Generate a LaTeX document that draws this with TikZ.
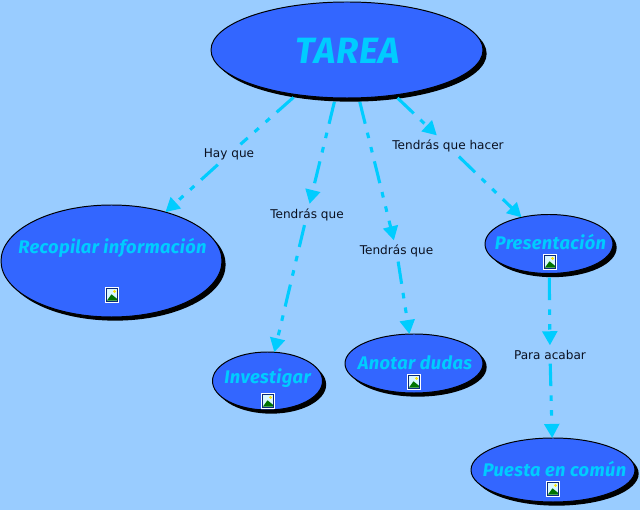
\documentclass[tikz,border=0pt]{standalone}
\usepackage{fontspec}
\setmainfont{DejaVu Sans}
\newfontfamily\concfont[LetterSpace=2]{Fira Sans}
\usepackage{xcolor}
\usepackage{tikz}
\usetikzlibrary{shapes.geometric,shadows,arrows.meta,calc}
\definecolor{mapback}{HTML}{99CCFF}
\definecolor{mapfill}{HTML}{3366FF}
\definecolor{mapcyan}{HTML}{00CCFF}
\definecolor{mapink}{HTML}{0A1020}
\definecolor{iconframe}{HTML}{0A2A7A}

\begin{document}
\begin{tikzpicture}[
  x=0.025cm, y=-0.025cm,
  conc/.style={ellipse, draw=black, fill=mapfill, line width=0.7pt, inner sep=0pt, outer sep=0pt,
    drop shadow={shadow xshift=2.6pt, shadow yshift=-2.6pt, fill=black, opacity=1}},
  conctext/.style={font=\concfont\bfseries\itshape\fontsize{13}{15}\selectfont, text=mapcyan, inner sep=0pt},
  linktext/.style={font=\fontsize{8.6}{10}\selectfont, text=mapink, inner xsep=1pt, inner ysep=3pt},
  linkto/.style={draw=mapcyan, line width=2.2pt, dash pattern=on 16pt off 6.5pt on 4pt off 6.5pt on 4pt off 6.5pt,
    -{Triangle[width=10.5pt,length=10pt]}},
  linkline/.style={draw=mapcyan, line width=2.2pt, dash pattern=on 16pt off 6.5pt on 4pt off 6.5pt on 4pt off 6.5pt},
  imgicon/.style={rectangle, fill=white, inner sep=0pt, outer sep=0pt, minimum width=10pt, minimum height=11pt,
    path picture={
      \fill[iconframe] ([shift={(0.6pt,0.6pt)}]path picture bounding box.south west)
        rectangle ([shift={(-0.6pt,-0.6pt)}]path picture bounding box.north east);
      \fill[white!85!mapcyan] ([shift={(1.4pt,1.5pt)}]path picture bounding box.south west)
        rectangle ([shift={(-1.4pt,-1.5pt)}]path picture bounding box.north east);
      \fill[green!45!black] ([shift={(1.4pt,1.5pt)}]path picture bounding box.south west)
        -- ([shift={(4.6pt,6pt)}]path picture bounding box.south west)
        -- ([shift={(8.6pt,2.8pt)}]path picture bounding box.south west)
        -- ([shift={(8.6pt,1.5pt)}]path picture bounding box.south west) -- cycle;
      \fill[yellow!85!orange] ([shift={(6.8pt,8pt)}]path picture bounding box.south west) circle (1.1pt);
    }},
]
\useasboundingbox (0,0) rectangle (640,510);
\fill[mapback] (0,0) rectangle (640,510);

% ellipses: name/cx/cy/width/height in pixels of the reference
\foreach \n/\cx/\cy/\w/\h in {%
  tarea/347/50/272/96,
  recopilar/111.5/261/221/112,
  investigar/267.5/381/110/58,
  anotar/414/363.5/138/59,
  presentacion/549/244/128/59,
  puesta/553/470/164/64%
} {
  \node[conc, minimum width=\w*0.025cm, minimum height=\h*0.025cm] (\n) at (\cx,\cy) {};
}

\node[conctext, font=\concfont\bfseries\itshape\fontsize{26}{30}\selectfont] (tareatext) at (348,51) {TAREA};
\node[conctext] (recopilartext) at (112.5,247.5) {Recopilar información};
\node[conctext] (investigartext) at (267.5,378) {Investigar};
\node[conctext] (anotartext) at (415,363) {Anotar dudas};
\node[conctext] (presentaciontext) at (550.5,242.5) {Presentación};
\node[conctext] (puestatext) at (554.5,469.5) {Puesta en común};

\node[imgicon] (recopilarimg) at (112,295) {};
\node[imgicon] (investigarimg) at (268,401) {};
\node[imgicon] (anotarimg) at (414,382) {};
\node[imgicon] (presentacionimg) at (550,262) {};
\node[imgicon] (puestaimg) at (553,489) {};

\node[linktext] (hayque) at (229,154.5) {Hay que};
\node[linktext] (tendras) at (307,214.5) {Tendrás que};
\node[linktext] (tendrasdos) at (396.5,251) {Tendrás que};
\node[linktext] (tendrashacer) at (448,146) {Tendrás que hacer};
\node[linktext] (paraacabar) at (550,354.5) {Para acabar};

\draw[linkline, shorten <=3pt] (tarea) -- (hayque);
\draw[linkto] (hayque) -- (recopilar);
\draw[linkto, shorten <=3pt] (tarea) -- (tendras);
\draw[linkto] (tendras) -- (investigar);
\draw[linkto, shorten <=3pt] (tarea) -- (tendrasdos);
\draw[linkto] (tendrasdos) -- (anotar);
\draw[linkto, shorten <=3pt] (tarea) -- (tendrashacer);
\draw[linkto] (tendrashacer) -- (presentacion);
\draw[linkto, shorten <=3pt] (presentacion) -- (paraacabar);
\draw[linkto] (paraacabar) -- (puesta);
\end{tikzpicture}
\end{document}
